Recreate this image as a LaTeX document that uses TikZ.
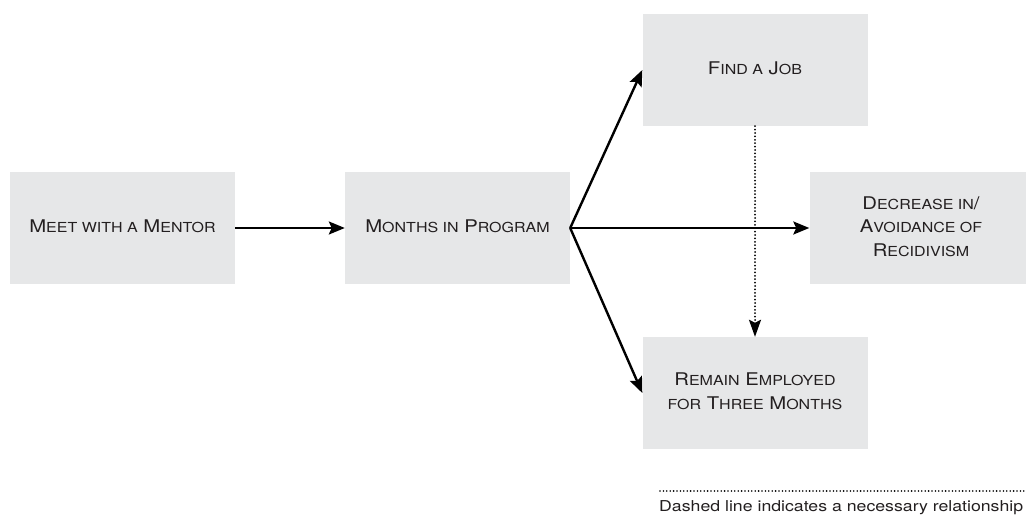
\documentclass[tikz,border=0pt]{standalone}
\usepackage{fontspec}
\usepackage{graphicx}
\setmainfont{TeX Gyre Heros}
\usetikzlibrary{arrows.meta}
\definecolor{boxgray}{HTML}{E6E7E8}
\definecolor{inkc}{HTML}{231F20}
\newcommand\smc[1]{{\fontsize{13.8}{23}\selectfont #1}}
\newcommand\wide[1]{\scalebox{1.16}[1]{\begin{tabular}{@{}c@{}}#1\end{tabular}}}
\begin{document}
\begin{tikzpicture}[x=1pt,y=-1pt,
  box/.style={fill=boxgray, draw=none, minimum width=225pt, minimum height=112pt,
    inner sep=0pt, align=center, text=inkc, font=\fontsize{17.5}{23.5}\selectfont},
  tipst/.style={-{Stealth[length=16pt,width=13pt,inset=3pt]}},
  arr/.style={line width=2.4pt, draw=black, tipst},
  dotln/.style={line width=2pt, draw=black, line cap=round, dash pattern=on 0pt off 3.4pt}
]
\useasboundingbox (0,0) rectangle (1026,521);
\begin{scope}
\clip (0,0) rectangle (1026,521);
\renewcommand{\arraystretch}{1.0}
\node[box] (mentor) at (122.5,228) {\wide{M\smc{EET WITH A} M\smc{ENTOR}}};
\node[box] (months) at (457.5,228) {\wide{M\smc{ONTHS IN} P\smc{ROGRAM}}};
\node[box] (job) at (755,70) {\wide{F\smc{IND A} J\smc{OB}}};
\node[box, minimum width=223pt] (decr) at (921,228) {\wide{D\smc{ECREASE IN}/\\A\smc{VOIDANCE OF}\\R\smc{ECIDIVISM}}};
\node[box] (remain) at (755,393) {\wide{R\smc{EMAIN} E\smc{MPLOYED}\\\smc{FOR} T\smc{HREE} M\smc{ONTHS}}};

\draw[arr] (mentor.east) -- (months.west);
\draw[arr] (months.east) -- (job.west);
\draw[arr] (months.east) -- (decr.west);
\draw[arr] (months.east) -- (remain.west);
\draw[dotln, -{Stealth[length=17pt,width=12pt,inset=3pt]}] (job.south) -- (remain.north);

\coordinate (lgA) at (660,491);
\coordinate (lgB) at (1030,491);
\draw[line width=1.8pt, line cap=round, dash pattern=on 0pt off 3.4pt] (lgA) -- (lgB);
\node[anchor=base west, inner sep=0pt, text=inkc, font=\fontsize{15}{18}\selectfont] (lgtext) at (659,511) {\scalebox{1.18}[1]{Dashed line indicates a necessary relationship}};
\end{scope}
\end{tikzpicture}
\end{document}
